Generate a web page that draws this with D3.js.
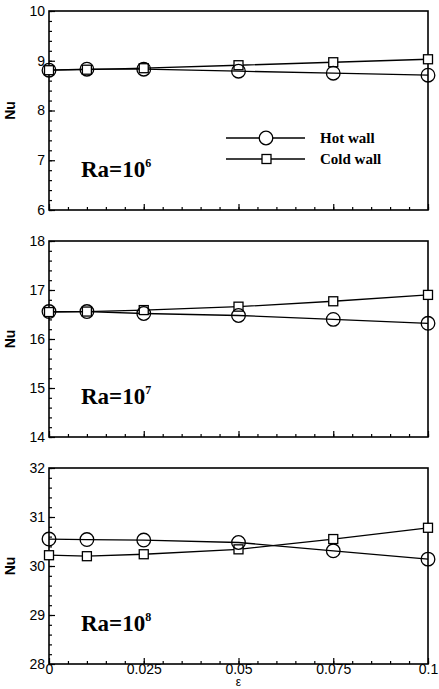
<!DOCTYPE html>
<html>
<head>
<meta charset="utf-8">
<script src="https://cdn.jsdelivr.net/npm/d3@7"></script>
<style>
  body { margin: 0; background: #fff; }
  .tick text { font-family: "Liberation Sans", Arial, sans-serif; font-size: 14px; fill: #000; }
</style>
</head>
<body>
<div id="chart-area"></div>
<script>
// epsilon values
var eps = [0, 0.01, 0.025, 0.05, 0.075, 0.1];
var xTicks = [0, 0.025, 0.05, 0.075, 0.1];
var xTickLabels = ["0", "0.025", "0.05", "0.075", "0.1"];

// Nu on hot / cold walls, one pair per Rayleigh number
var raExp = ["6", "7", "8"];
var yDomains = [[6, 10], [14, 18], [28, 32]];
var hot6 = [8.81, 8.83, 8.83, 8.79, 8.75, 8.71];
var cold6 = [8.81, 8.82, 8.85, 8.91, 8.97, 9.03];
var hot7 = [16.56, 16.56, 16.52, 16.48, 16.40, 16.32];
var cold7 = [16.55, 16.56, 16.59, 16.66, 16.77, 16.90];
var hot8 = [30.55, 30.54, 30.53, 30.48, 30.31, 30.14];
var cold8 = [30.22, 30.20, 30.24, 30.34, 30.55, 30.78];
var legendNames = ["Hot wall", "Cold wall"];

var panels = [
  { hot: hot6, cold: cold6 },
  { hot: hot7, cold: cold7 },
  { hot: hot8, cold: cold8 }
];

const W = 439, H = 689
const MARGIN = { LEFT: 49, RIGHT: 11 }
const WIDTH = W - MARGIN.LEFT - MARGIN.RIGHT
const TOPS = [11, 241, 468]
const PH = [199, 196, 196]

const svg = d3.select("#chart-area").append("svg")
  .attr("width", W)
  .attr("height", H)

var xScale = d3.scaleLinear().domain([0, 0.1]).range([0, WIDTH]);

panels.forEach(function(p, i) {
  var ph = PH[i];
  var g = svg.append("g").attr("transform", `translate(${MARGIN.LEFT}, ${TOPS[i]})`);
  var yScale = d3.scaleLinear().domain(yDomains[i]).range([ph, 0]);
  var y0 = yDomains[i][0], y1 = yDomains[i][1];

  // minor ticks
  g.append("g")
    .call(d3.axisLeft(yScale).tickValues(d3.range(y0, y1 + 0.001, 0.2)).tickSize(-3).tickFormat(""))
    .call(a => a.select(".domain").remove());
  g.append("g")
    .attr("transform", "translate(0," + ph + ")")
    .call(d3.axisBottom(xScale).tickValues(d3.range(0, 0.1001, 0.005)).tickSize(-3).tickFormat(""))
    .call(a => a.select(".domain").remove());

  // major ticks
  g.append("g")
    .call(d3.axisLeft(yScale).tickValues(d3.range(y0, y1 + 0.001, 1)).tickSize(-6).tickPadding(4).tickFormat(d3.format("d")))
    .call(a => a.select(".domain").remove());
  var xa = g.append("g")
    .attr("transform", "translate(0," + ph + ")")
    .call(d3.axisBottom(xScale).tickValues(xTicks).tickSize(-6).tickPadding(0)
      .tickFormat((d, k) => i === 2 ? xTickLabels[k] : ""))
    .call(a => a.select(".domain").remove());
  xa.selectAll(".tick text").attr("dy", "0.72em");

  g.selectAll(".tick line").attr("stroke", "#000").attr("stroke-width", 1.2);

  // frame
  g.append("rect")
    .attr("width", WIDTH).attr("height", ph)
    .attr("fill", "none").attr("stroke", "#000").attr("stroke-width", 1.6);

  // y label
  g.append("text")
    .attr("transform", `translate(-34, ${ph / 2}) rotate(-90)`)
    .attr("text-anchor", "middle")
    .style("font-family", "Liberation Sans, Arial, sans-serif")
    .style("font-weight", "bold").style("font-size", "14px")
    .text("Nu");

  // Ra label
  var ra = g.append("text")
    .attr("x", 32).attr("y", ph - 33)
    .style("font-family", "Liberation Serif, Times New Roman, serif")
    .style("font-weight", "bold").style("font-size", "23px")
    .text("Ra=10");
  ra.append("tspan").attr("dy", -10).style("font-size", "12px").text(raExp[i]);

  var line = d3.line().x((d, k) => xScale(eps[k])).y(d => yScale(d));

  [p.hot, p.cold].forEach(function(series) {
    g.append("path")
      .attr("fill", "none").attr("stroke", "#000").attr("stroke-width", 1.3)
      .attr("d", line(series));
  });

  g.selectAll(".sq").data(p.cold).join("rect")
    .attr("x", (d, k) => xScale(eps[k]) - 4.5)
    .attr("y", d => yScale(d) - 4.5)
    .attr("width", 9).attr("height", 9)
    .attr("fill", "#fff").attr("stroke", "#000").attr("stroke-width", 1.3);

  g.selectAll(".ci").data(p.hot).join("circle")
    .attr("cx", (d, k) => xScale(eps[k]))
    .attr("cy", d => yScale(d))
    .attr("r", 6.8)
    .attr("fill", "none").attr("stroke", "#000").attr("stroke-width", 1.3);

  if (i === 0) {
    var lg = svg.append("g");
    legendNames.forEach(function(name, k) {
      var ly = 138 + k * 21;
      lg.append("line").attr("x1", 226).attr("x2", 305).attr("y1", ly).attr("y2", ly)
        .attr("stroke", "#000").attr("stroke-width", 1.3);
      if (k === 0) {
        lg.append("circle").attr("cx", 266).attr("cy", ly).attr("r", 6.8)
          .attr("fill", "#fff").attr("stroke", "#000").attr("stroke-width", 1.3);
      } else {
        lg.append("rect").attr("x", 262).attr("y", ly - 4.5).attr("width", 9).attr("height", 9)
          .attr("fill", "#fff").attr("stroke", "#000").attr("stroke-width", 1.3);
      }
      lg.append("text").attr("x", 320).attr("y", ly + 5)
        .style("font-family", "Liberation Serif, Times New Roman, serif")
        .style("font-weight", "bold").style("font-size", "15px")
        .text(name);
    });
  }
});

// x label
svg.append("text")
  .attr("x", MARGIN.LEFT + xScale(0.05)).attr("y", 686)
  .attr("text-anchor", "middle")
  .style("font-family", "Liberation Sans, Arial, sans-serif")
  .style("font-size", "12px")
  .text("ε");
</script>
</body>
</html>
